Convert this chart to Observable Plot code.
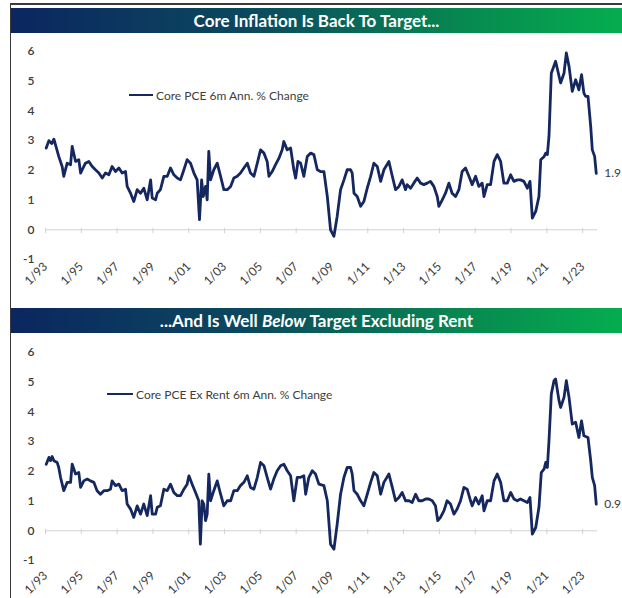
<!DOCTYPE html>
<html><head><meta charset="utf-8">
<script src="https://cdn.jsdelivr.net/npm/d3@7"></script>
<script src="https://cdn.jsdelivr.net/npm/@observablehq/plot@0.6"></script>
<style>
body{margin:0;background:#fff;width:622px;height:598px;overflow:hidden;position:relative;font-family:Lato,"Open Sans",sans-serif;}
#frame{position:absolute;left:10px;top:3px;width:640px;height:640px;border-left:1.5px solid #3a3a3a;border-top:2.5px solid #3a3a3a;z-index:3;pointer-events:none;}
.hdr{position:absolute;left:11px;width:611px;height:25px;background:linear-gradient(90deg,#0b2660 0%,#0b4a5e 40%,#078a50 75%,#05ad4f 100%);color:#fff;font-weight:700;font-size:17px;line-height:25px;text-align:center;z-index:2;}
.leg{position:absolute;font-size:12px;color:#404040;display:flex;align-items:center;white-space:nowrap;height:14px;z-index:2;}
.leg .sw{display:inline-block;height:2.8px;background:#15275f;margin-right:3px;}
.chart{position:absolute;left:0;z-index:1;}
</style>
</head><body>
<div id="frame"></div>
<div class="hdr" style="top:8px">Core Inflation Is Back To Target...</div>
<div class="hdr" style="top:308px">...And Is Well <i>Below</i> Target Excluding Rent</div>
<div id="c1" class="chart" style="top:33px"></div>
<div id="c2" class="chart" style="top:333px"></div>
<div class="leg" style="left:129px;top:88px"><span class="sw" style="width:24px"></span>Core PCE 6m Ann. % Change</div>
<div class="leg" style="left:107px;top:387px"><span class="sw" style="width:26px"></span>Core PCE Ex Rent 6m Ann. % Change</div>
<script>
const xTicks = [1993,1995,1997,1999,2001,2003,2005,2007,2009,2011,2013,2015,2017,2019,2021,2023];
const xTickLabels = ["1/93","1/95","1/97","1/99","1/01","1/03","1/05","1/07","1/09","1/11","1/13","1/15","1/17","1/19","1/21","1/23"];
const yTicks = [-1,0,1,2,3,4,5,6];
const xDomain = [1993, 2023.83];

const coreYears = [1993.04,1993.19,1993.35,1993.47,1993.56,1993.74,1993.93,1994.02,1994.21,1994.40,1994.49,1994.68,1994.86,1994.96,1995.23,1995.42,1995.61,1995.79,1995.98,1996.17,1996.35,1996.54,1996.72,1996.91,1997.10,1997.28,1997.47,1997.56,1997.75,1997.93,1998.12,1998.31,1998.49,1998.68,1998.87,1998.96,1999.15,1999.24,1999.42,1999.61,1999.80,1999.98,2000.17,2000.36,2000.54,2000.73,2000.91,2001.10,2001.29,2001.47,2001.60,2001.72,2001.81,2001.94,2002.03,2002.12,2002.22,2002.40,2002.59,2002.78,2002.96,2003.15,2003.34,2003.52,2003.71,2003.89,2004.08,2004.27,2004.45,2004.64,2004.83,2005.01,2005.20,2005.38,2005.48,2005.66,2005.85,2006.04,2006.22,2006.31,2006.50,2006.69,2006.87,2006.97,2007.10,2007.25,2007.43,2007.62,2007.81,2007.99,2008.18,2008.36,2008.55,2008.74,2008.92,2009.11,2009.29,2009.48,2009.67,2009.85,2010.04,2010.13,2010.23,2010.41,2010.60,2010.78,2010.97,2011.16,2011.34,2011.53,2011.72,2011.90,2012.18,2012.37,2012.55,2012.74,2012.92,2013.11,2013.20,2013.39,2013.57,2013.76,2013.95,2014.13,2014.32,2014.50,2014.69,2014.88,2014.97,2015.16,2015.34,2015.53,2015.71,2015.90,2016.09,2016.27,2016.46,2016.65,2016.83,2017.02,2017.20,2017.39,2017.49,2017.67,2017.86,2018.05,2018.23,2018.42,2018.60,2018.79,2018.98,2019.16,2019.35,2019.53,2019.72,2019.91,2020.06,2020.19,2020.38,2020.56,2020.66,2020.85,2020.94,2021.03,2021.12,2021.25,2021.49,2021.77,2021.96,2022.09,2022.24,2022.42,2022.61,2022.79,2022.94,2023.07,2023.17,2023.30,2023.45,2023.54,2023.67,2023.76];
const coreValues = [2.75,3.0,2.9,3.05,2.86,2.47,2.13,1.80,2.24,2.19,2.81,2.30,2.36,1.91,2.24,2.30,2.13,2.02,1.91,1.74,1.91,1.85,2.13,1.96,2.08,1.91,1.96,1.46,1.23,0.95,1.35,1.23,1.40,1.01,1.68,1.07,1.01,1.23,1.35,1.80,1.80,2.08,1.85,1.74,1.68,2.02,2.36,2.24,1.91,1.68,0.34,1.68,1.12,1.46,1.01,2.64,1.68,2.02,2.24,1.80,1.35,1.35,1.46,1.74,1.80,1.91,2.08,2.24,1.91,1.80,2.24,2.69,2.58,2.30,1.80,1.96,2.19,2.41,2.69,2.97,2.69,2.75,2.02,1.74,2.30,2.24,1.80,2.47,2.58,2.53,2.02,1.96,1.96,1.12,0.0,-0.22,0.45,1.35,1.68,2.02,2.02,1.91,1.23,1.12,0.79,0.95,1.40,1.80,2.24,2.13,1.63,2.02,2.30,1.80,1.35,1.46,1.68,1.35,1.52,1.40,1.57,1.74,1.57,1.52,1.57,1.63,1.46,1.12,0.79,1.01,1.23,1.57,1.23,1.12,1.35,1.96,2.08,1.80,1.52,1.80,1.46,1.57,1.12,1.52,1.52,2.30,2.53,2.30,1.57,1.57,1.85,1.63,1.68,1.68,1.63,1.40,1.63,0.39,0.62,1.12,2.36,2.47,2.58,2.53,3.14,5.27,5.67,4.94,5.27,5.95,5.50,4.66,5.05,4.71,5.22,4.60,4.49,4.49,3.48,2.69,2.47,1.9];

const exRentYears = [1993.04,1993.19,1993.28,1993.37,1993.47,1993.65,1993.74,1993.84,1994.02,1994.21,1994.40,1994.49,1994.68,1994.86,1994.96,1995.14,1995.33,1995.51,1995.70,1995.88,1996.07,1996.26,1996.44,1996.63,1996.72,1996.91,1997.10,1997.28,1997.47,1997.56,1997.75,1997.93,1998.12,1998.31,1998.49,1998.68,1998.87,1998.96,1999.15,1999.24,1999.42,1999.61,1999.80,1999.98,2000.17,2000.36,2000.54,2000.73,2000.91,2001.01,2001.19,2001.38,2001.56,2001.65,2001.75,2001.84,2001.94,2002.03,2002.12,2002.22,2002.40,2002.59,2002.78,2002.96,2003.15,2003.34,2003.52,2003.71,2003.89,2004.08,2004.27,2004.45,2004.64,2004.83,2005.01,2005.20,2005.38,2005.57,2005.75,2005.94,2006.13,2006.31,2006.50,2006.69,2006.87,2007.06,2007.25,2007.43,2007.53,2007.71,2007.90,2008.08,2008.27,2008.55,2008.74,2008.92,2009.11,2009.29,2009.48,2009.67,2009.85,2010.04,2010.13,2010.23,2010.41,2010.60,2010.78,2010.97,2011.16,2011.34,2011.53,2011.72,2011.90,2012.18,2012.37,2012.55,2012.74,2012.92,2013.11,2013.30,2013.48,2013.67,2013.85,2014.04,2014.23,2014.41,2014.60,2014.78,2014.91,2015.06,2015.25,2015.43,2015.62,2015.81,2015.99,2016.18,2016.37,2016.55,2016.74,2016.83,2017.02,2017.20,2017.39,2017.49,2017.67,2017.86,2018.05,2018.23,2018.42,2018.60,2018.79,2018.98,2019.16,2019.35,2019.53,2019.72,2019.91,2020.06,2020.19,2020.38,2020.56,2020.69,2020.85,2020.94,2021.03,2021.12,2021.25,2021.40,2021.49,2021.68,2021.77,2021.96,2022.09,2022.24,2022.42,2022.61,2022.79,2022.94,2023.07,2023.30,2023.45,2023.54,2023.67,2023.76];
const exRentValues = [2.24,2.47,2.36,2.50,2.36,2.30,2.13,1.80,1.35,1.63,1.63,2.24,1.91,1.96,1.46,1.68,1.74,1.68,1.63,1.35,1.23,1.35,1.35,1.40,1.68,1.52,1.57,1.35,1.40,0.90,0.73,0.45,0.84,0.56,0.90,0.51,1.18,0.56,0.56,0.79,0.84,1.40,1.35,1.57,1.29,1.18,1.18,1.40,1.57,1.85,1.57,1.29,1.01,-0.45,1.01,0.90,0.34,0.56,1.91,1.01,1.35,1.68,1.23,0.84,1.01,1.01,1.35,1.35,1.52,1.63,1.85,1.46,1.40,1.80,2.30,2.19,1.80,1.40,1.74,2.02,2.19,2.24,2.02,1.85,1.01,1.80,1.80,1.85,1.23,1.80,2.02,1.91,1.57,1.52,1.01,-0.45,-0.62,0.22,1.23,1.80,2.13,2.13,1.91,1.35,1.23,1.01,0.84,1.23,1.63,1.96,1.85,1.23,1.63,1.91,1.46,1.01,1.12,1.29,1.01,1.01,0.95,1.23,1.01,1.01,1.07,1.07,1.01,0.84,0.34,0.45,0.67,1.01,0.90,0.56,0.73,1.01,1.46,1.40,1.01,0.84,1.12,0.90,1.18,0.67,1.01,1.01,1.68,1.91,1.63,1.01,1.01,1.29,1.07,1.01,1.07,1.01,0.95,1.12,-0.11,0.11,0.79,1.96,2.08,2.30,2.13,3.03,4.60,5.05,5.11,4.38,4.15,4.49,5.05,4.49,3.59,3.65,3.14,3.70,3.20,3.14,2.36,1.80,1.52,0.9];

function makeChart(years, values, height, marginTop, marginBottom, padX) {
  const data = years.map((y, i) => ({year: y, value: values[i]}));
  const last = data[data.length - 1];
  return Plot.plot({
    width: 622, height, marginLeft: 45, marginRight: 25, marginTop, marginBottom,
    style: {background: "transparent", fontFamily: "Lato, sans-serif", fontSize: "12px", color: "#3c3c3c", overflow: "visible"},
    x: {domain: xDomain},
    y: {domain: [-1, 6]},
    marks: [
      Plot.axisY({ticks: yTicks, tickSize: 0, tickPadding: 11, tickFormat: d => String(d), label: null, fontWeight: 600}),
      Plot.axisX({ticks: xTicks, tickFormat: d => xTickLabels[xTicks.indexOf(d)], tickRotate: -45, tickSize: 0, tickPadding: padX, label: null}),
      Plot.ruleY([0], {stroke: "#d2d2d2", strokeWidth: 1}),
      Plot.ruleX(xTicks, {y1: 0.05, y2: -0.13, stroke: "#d2d2d2"}),
      Plot.line(data, {x: "year", y: "value", stroke: "#15275f", strokeWidth: 2.8, strokeLinejoin: "round"}),
      Plot.text([last], {x: "year", y: "value", text: d => d.value.toFixed(1), textAnchor: "start", dx: 8, fill: "#3c3c3c", fontSize: 12})
    ]
  });
}
document.getElementById("c1").appendChild(makeChart(coreYears, coreValues, 274, 18, 48, 5));
document.getElementById("c2").appendChild(makeChart(exRentYears, exRentValues, 265, 19, 38, 13));
</script>
</body></html>
